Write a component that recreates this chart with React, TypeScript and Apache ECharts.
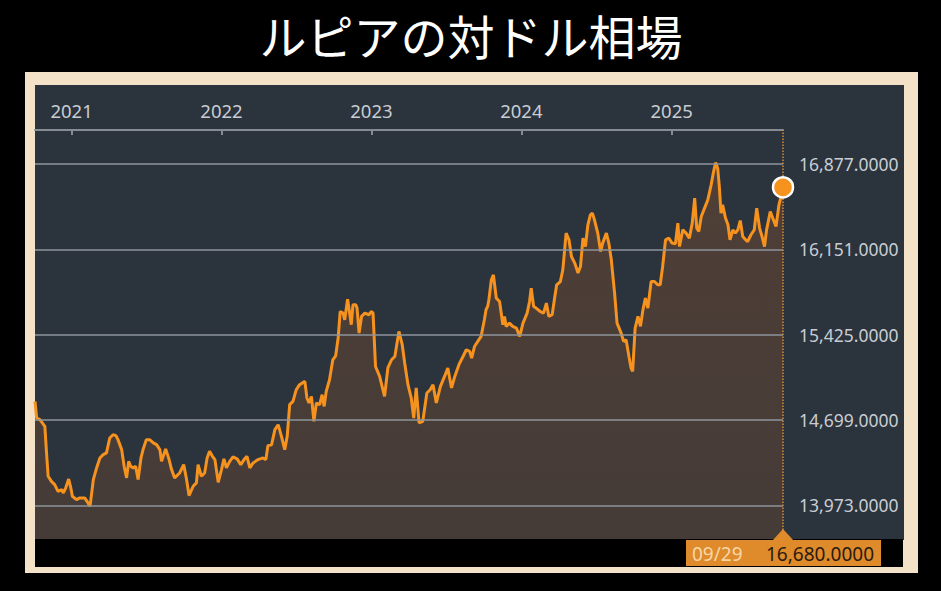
import React, { useEffect, useRef } from "react";
import * as echarts from "echarts";

const TITLE = "ルピアの対ドル相場";

const DATES: string[] = [
  "2020-10-04","2020-10-08","2020-10-16","2020-10-28","2020-11-01","2020-11-05","2020-11-13","2020-11-21","2020-11-29","2020-12-08",
  "2020-12-12","2020-12-18","2020-12-25","2020-12-30","2021-01-03","2021-01-13","2021-01-21","2021-02-02","2021-02-10","2021-02-15",
  "2021-02-23","2021-03-03","2021-03-11","2021-03-19","2021-03-27","2021-04-04","2021-04-12","2021-04-19","2021-04-24","2021-05-03",
  "2021-05-09","2021-05-15","2021-05-20","2021-05-25","2021-05-31","2021-06-06","2021-06-12","2021-06-19","2021-06-24","2021-07-02",
  "2021-07-10","2021-07-19","2021-07-27","2021-08-04","2021-08-08","2021-08-18","2021-08-26","2021-09-01","2021-09-09","2021-09-21",
  "2021-10-01","2021-10-08","2021-10-14","2021-10-24","2021-11-01","2021-11-05","2021-11-13","2021-11-21","2021-11-27","2021-12-03",
  "2021-12-10","2021-12-16","2021-12-24","2022-01-01","2022-01-07","2022-01-13","2022-01-21","2022-01-29","2022-02-08","2022-02-17",
  "2022-02-25","2022-03-04","2022-03-11","2022-03-19","2022-03-31","2022-04-12","2022-04-19","2022-04-24","2022-05-03","2022-05-11",
  "2022-05-19","2022-05-27","2022-06-04","2022-06-10","2022-06-16","2022-06-24","2022-07-02","2022-07-10","2022-07-23","2022-07-28",
  "2022-08-02","2022-08-08","2022-08-14","2022-08-20","2022-08-28","2022-09-03","2022-09-08","2022-09-13","2022-09-21","2022-09-29",
  "2022-10-06","2022-10-12","2022-10-17","2022-10-24","2022-10-28","2022-11-04","2022-11-09","2022-11-13","2022-11-17","2022-11-24",
  "2022-11-27","2022-12-02","2022-12-08","2022-12-16","2022-12-26","2023-01-01","2023-01-05","2023-01-11","2023-01-21","2023-02-02",
  "2023-02-10","2023-02-19","2023-02-27","2023-03-09","2023-03-17","2023-03-23","2023-03-31","2023-04-08","2023-04-14","2023-04-20",
  "2023-04-27","2023-05-06","2023-05-16","2023-05-24","2023-05-31","2023-06-08","2023-06-18","2023-06-28","2023-07-06","2023-07-15",
  "2023-07-23","2023-08-02","2023-08-12","2023-08-20","2023-08-28","2023-09-02","2023-09-09","2023-09-17","2023-09-25","2023-09-29",
  "2023-10-03","2023-10-07","2023-10-11","2023-10-14","2023-10-17","2023-10-20","2023-10-25","2023-11-01","2023-11-09","2023-11-17",
  "2023-11-21","2023-11-25","2023-12-03","2023-12-11","2023-12-20","2023-12-28","2024-01-05","2024-01-15","2024-01-21","2024-01-25",
  "2024-01-31","2024-02-06","2024-02-16","2024-02-24","2024-03-02","2024-03-08","2024-03-16","2024-03-22","2024-03-27","2024-04-05",
  "2024-04-11","2024-04-19","2024-04-26","2024-05-02","2024-05-10","2024-05-18","2024-05-24","2024-05-30","2024-06-05","2024-06-11",
  "2024-06-17","2024-06-22","2024-06-27","2024-07-05","2024-07-12","2024-07-17","2024-07-26","2024-08-01","2024-08-07","2024-08-15",
  "2024-08-21","2024-08-31","2024-09-06","2024-09-12","2024-09-19","2024-09-24","2024-09-28","2024-10-04","2024-10-11","2024-10-17",
  "2024-10-23","2024-10-29","2024-11-04","2024-11-12","2024-11-20","2024-11-28","2024-12-04","2024-12-10","2024-12-17","2024-12-25",
  "2025-01-02","2025-01-10","2025-01-16","2025-01-20","2025-01-28","2025-02-05","2025-02-13","2025-02-20","2025-02-26","2025-03-03",
  "2025-03-08","2025-03-14","2025-03-22","2025-03-30","2025-04-07","2025-04-13","2025-04-18","2025-04-23","2025-04-27","2025-05-01",
  "2025-05-05","2025-05-12","2025-05-18","2025-05-23","2025-05-30","2025-06-05","2025-06-11","2025-06-17","2025-06-23","2025-06-30",
  "2025-07-05","2025-07-13","2025-07-21","2025-07-27","2025-08-03","2025-08-09","2025-08-15","2025-08-20","2025-08-29","2025-09-04",
  "2025-09-12","2025-09-19","2025-09-24","2025-09-29",
];

const RATES: number[] = [
  14858,14716,14702,14645,14421,14220,14177,14149,14092,14106,
  14078,14124,14197,14124,14050,14021,14036,14036,13993,13964,
  14192,14291,14376,14404,14419,14546,14574,14566,14532,14447,
  14305,14206,14347,14305,14291,14305,14192,14376,14447,14532,
  14532,14504,14489,14447,14347,14453,14368,14283,14206,14248,
  14319,14192,14056,14135,14164,14319,14220,14248,14376,14432,
  14390,14362,14169,14277,14368,14291,14347,14385,14368,14319,
  14362,14390,14291,14334,14362,14376,14362,14481,14489,14617,
  14659,14560,14447,14560,14830,14858,14957,15000,15028,14886,
  14844,14900,14688,14844,14830,14915,14815,14943,15042,15212,
  15246,15397,15623,15609,15552,15728,15609,15510,15680,15680,
  15652,15439,15581,15609,15595,15623,15609,15155,15070,14900,
  15142,15212,15240,15453,15340,15184,15000,14886,14716,14972,
  14674,14688,14929,14957,15000,14844,14985,15070,15142,14972,
  15070,15170,15240,15297,15283,15226,15325,15368,15411,15482,
  15553,15638,15666,15723,15808,15893,15935,15737,15708,15510,
  15581,15496,15524,15496,15482,15411,15524,15609,15708,15822,
  15666,15652,15623,15609,15694,15581,15595,15737,15850,15878,
  15978,16290,16233,16091,16035,15950,16006,16247,16176,16361,
  16446,16460,16403,16290,16134,16205,16290,16205,16063,15780,
  15524,15439,15368,15382,15240,15142,15113,15482,15581,15496,
  15638,15737,15652,15878,15878,15850,15850,16006,16233,16247,
  16205,16199,16375,16176,16318,16290,16247,16375,16588,16333,
  16304,16432,16503,16573,16701,16814,16891,16843,16686,16460,
  16531,16418,16361,16233,16318,16290,16318,16397,16261,16233,
  16219,16276,16318,16503,16333,16261,16176,16318,16474,16418,
  16347,16528,16599,16680,
];

const Y_TICKS: number[] = [13973, 14699, 15425, 16151, 16877];
const YEAR_TICKS: string[] = ["2021-01-01", "2022-01-01", "2023-01-01", "2024-01-01", "2025-01-01"];
const Y_MIN = 13686;
const Y_MAX = 17168;

const fmt4 = (v: number) =>
  v.toLocaleString("en-US", { minimumFractionDigits: 4, maximumFractionDigits: 4 });
const ts = (s: string) => Date.UTC(+s.slice(0, 4), +s.slice(5, 7) - 1, +s.slice(8, 10));

export default function App() {
  const ref = useRef<HTMLDivElement>(null);

  useEffect(() => {
    if (!ref.current) return;
    const chart = echarts.init(ref.current, undefined, { renderer: "svg" });
    const data = DATES.map((d, i) => [ts(d), RATES[i]]);
    const lastDate = DATES[DATES.length - 1];
    const lastT = ts(lastDate);
    const lastVal = RATES[RATES.length - 1];
    const dateLabel = lastDate.slice(5, 7) + "/" + lastDate.slice(8, 10);
    const yearTs = YEAR_TICKS.map(ts);
    const font = "'Noto Sans', 'DejaVu Sans', sans-serif";

    chart.setOption({
      animation: false,
      backgroundColor: "#000",
      graphic: [
        {
          type: "rect",
          z: -20,
          silent: true,
          shape: { x: 25, y: 72, width: 893, height: 501 },
          style: { fill: "#f3e2c8" },
        },
        {
          type: "rect",
          z: -19,
          silent: true,
          shape: { x: 35, y: 85, width: 869, height: 455 },
          style: { fill: "#2b333d" },
        },
        {
          type: "rect",
          z: -19,
          silent: true,
          shape: { x: 35, y: 539, width: 868, height: 28 },
          style: { fill: "#000" },
        },
        {
          type: "text",
          z: 10,
          x: 471,
          y: 34,
          style: {
            text: TITLE,
            fill: "#ffffff",
            fontSize: 47,
            lineHeight: 50,
            fontWeight: 400,
            fontFamily: "'Noto Sans CJK JP', sans-serif",
            textAlign: "center",
            textVerticalAlign: "middle",
          },
        },
        {
          type: "rect",
          z: 100,
          shape: { x: 686, y: 540, width: 195, height: 26 },
          style: { fill: "#df8a2b" },
        },
        {
          type: "polygon",
          z: 100,
          shape: { points: [[772, 541], [783, 529], [794, 541]] },
          style: { fill: "#df8a2b" },
        },
        {
          type: "text",
          z: 101,
          x: 692,
          y: 554,
          style: {
            text: dateLabel,
            fill: "#f8d7a6",
            fontSize: 19,
            fontFamily: font,
            textVerticalAlign: "middle",
          },
        },
        {
          type: "text",
          z: 101,
          x: 874,
          y: 554,
          style: {
            text: fmt4(lastVal),
            fill: "#2a1c0e",
            fontSize: 19,
            fontFamily: font,
            textAlign: "right",
            textVerticalAlign: "middle",
          },
        },
      ],
      grid: { left: 35, top: 130, width: 748, bottom: 52 },
      xAxis: {
        type: "value",
        position: "top",
        min: data[0][0],
        max: lastT,
        axisLine: { show: true, lineStyle: { color: "#858c94", width: 2 } },
        axisTick: {
          show: true,
          inside: true,
          length: 5,
          customValues: yearTs,
          lineStyle: { color: "#858c94", width: 2 },
        },
        axisLabel: {
          show: true,
          customValues: yearTs,
          margin: 10,
          color: "#c9cdd2",
          fontSize: 18.5,
          fontFamily: font,
          formatter: (v: number) => String(new Date(v).getUTCFullYear()),
        },
        splitLine: { show: false },
      },
      yAxis: {
        type: "value",
        position: "right",
        min: Y_MIN,
        max: Y_MAX,
        axisLine: { show: false },
        axisTick: { show: false },
        splitLine: { show: false },
        axisLabel: {
          show: true,
          customValues: Y_TICKS,
          margin: 16,
          color: "#c9cdd2",
          fontSize: 17.5,
          fontFamily: font,
          formatter: (v: number) => fmt4(v),
        },
      },
      series: [
        {
          type: "line",
          z: 1,
          data: data,
          symbol: "none",
          lineStyle: { opacity: 0 },
          silent: true,
          markLine: {
            silent: true,
            symbol: "none",
            label: { show: false },
            lineStyle: { color: "#8e949b", width: 1.7, type: "solid" },
            data: Y_TICKS.map((v) => ({ yAxis: v })),
          },
        },
        {
          type: "line",
          z: 3,
          data: data,
          symbol: "none",
          lineStyle: { color: "#f6921e", width: 3 },
          areaStyle: {
            origin: "start",
            color: new echarts.graphic.LinearGradient(0, 0, 0, 1, [
              { offset: 0, color: "rgba(232,114,26,0.27)" },
              { offset: 1, color: "rgba(218,106,22,0.21)" },
            ]),
          },
          markLine: {
            silent: true,
            symbol: "none",
            label: { show: false },
            lineStyle: { color: "#d98a35", width: 1.5, type: "dotted" },
            data: [{ xAxis: lastT }],
          },
          markPoint: {
            silent: true,
            symbol: "circle",
            symbolSize: 20,
            label: { show: false },
            itemStyle: { color: "#f6921e", borderColor: "#ffffff", borderWidth: 2.5 },
            data: [{ coord: [lastT, lastVal] }],
          },
        },
      ],
    });

    return () => chart.dispose();
  }, []);

  return (
    <div
      ref={ref}
      style={{ position: "fixed", left: 0, top: 0, width: 941, height: 591, background: "#000" }}
    />
  );
}
